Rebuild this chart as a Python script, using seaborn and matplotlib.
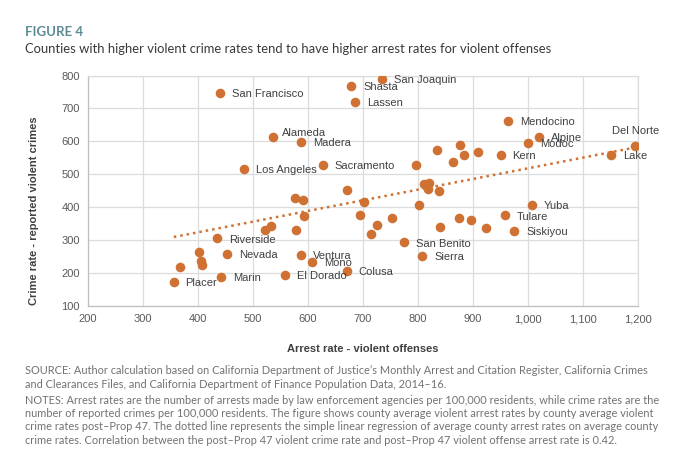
import numpy as np
import pandas as pd
import matplotlib
matplotlib.use("Agg")
import matplotlib.pyplot as plt
import seaborn as sns

# county values (arrest rate, crime rate)
counties = ["San Francisco", "Shasta", "Lassen", "San Joaquin", "Alameda", "Madera",
            "Los Angeles", "Sacramento", "Mendocino", "Alpine", "Modoc", "Del Norte",
            "Lake", "Kern", "Yuba", "Tulare", "Siskiyou", "San Benito", "Sierra",
            "Riverside", "Nevada", "Placer", "Marin", "Ventura", "Mono", "El Dorado",
            "Colusa"]
arrest_lab = [440, 679, 686, 734, 536, 588, 484, 627, 964, 1020, 1000, 1195,
              1151, 950, 1007, 958, 975, 775, 808, 435, 453, 356, 442, 587, 608, 559, 670]
crime_lab = [748, 768, 720, 789, 614, 597, 516, 528, 662, 613, 594, 587,
             560, 558, 408, 375, 327, 293, 251, 305, 258, 172, 187, 254, 235, 194, 206]

# counties without a label on the chart
arrest_other = [670, 876, 834, 884, 909, 864, 796, 810, 820, 819, 839, 801, 752, 874,
                896, 840, 923, 576, 591, 701, 695, 725, 714, 593, 579, 532, 522, 401,
                406, 408, 367]
crime_other = [452, 589, 574, 558, 567, 538, 528, 470, 473, 455, 449, 406, 368, 368,
               360, 340, 336, 427, 422, 415, 377, 347, 318, 373, 330, 343, 330, 263,
               236, 226, 219]

# label offsets in points (most sit to the right of the dot)
special_offsets = {"Alameda": (6.5, 3), "Del Norte": (0, 7)}

df = pd.DataFrame({
    "arrest": arrest_lab + arrest_other,
    "crime": crime_lab + crime_other,
    "name": counties + [""] * len(arrest_other),
})

dot = "#CF7132"
txt = "#404040"

sns.set_style("white")
plt.rcParams["font.family"] = ["Liberation Sans", "DejaVu Sans"]

fig = plt.figure(figsize=(6.8, 4.72), dpi=100)
ax = fig.add_axes([88 / 680, 1 - 306 / 472, 550 / 680, 230.5 / 472])

sns.regplot(data=df, x="arrest", y="crime", scatter=False, ci=None, ax=ax,
            line_kws=dict(color=dot, linestyle=(0, (1, 1.6)), linewidth=1.8))
sns.scatterplot(data=df, x="arrest", y="crime", color=dot, s=48, linewidth=0,
                ax=ax, zorder=3)

for _, r in df[df["name"] != ""].iterrows():
    if r["name"] in special_offsets:
        dx, dy = special_offsets[r["name"]]
    else:
        dx, dy = 8.5, -0.8
    ha = "center" if r["name"] == "Del Norte" else "left"
    va = "bottom" if r["name"] == "Del Norte" else "center"
    ax.annotate(r["name"], (r["arrest"], r["crime"]), xytext=(dx, dy),
                textcoords="offset points", ha=ha, va=va, fontsize=8, color=txt,
                zorder=4)

ax.set_xlim(200, 1200)
ax.set_ylim(100, 800)
ax.set_xticks(range(200, 1201, 100))
ax.set_xticklabels([f"{v:,}" for v in range(200, 1201, 100)])
ax.set_yticks(range(100, 801, 100))
ax.grid(True, color="#dcdcdc", linewidth=0.9)
ax.set_axisbelow(True)
for s in ax.spines.values():
    s.set_color("#dcdcdc")
    s.set_linewidth(0.9)
ax.spines["left"].set_color("#bfbfbf")
ax.spines["bottom"].set_color("#bfbfbf")
ax.tick_params(axis="both", length=0, labelsize=8, labelcolor="#595959", pad=6)

ax.set_xlabel("Arrest rate - violent offenses", fontsize=8, fontweight="bold",
              color=txt, labelpad=14)
ax.set_ylabel("Crime rate - reported violent crimes", fontsize=8, fontweight="bold",
              color=txt)
ax.yaxis.set_label_coords(-(88 - 39) / 550, (306 - 211) / 230.5)

# headings and notes
fig.text(25 / 680, 1 - 32 / 472, "FIGURE 4", fontsize=9.5, color="#5b8a93",
         family="Lato", va="center", fontweight="bold")
fig.text(25 / 680, 1 - 49 / 472,
         "Counties with higher violent crime rates tend to have higher arrest rates for violent offenses",
         fontsize=9.4, color="#3a3a3a", family="Lato", va="center")

note_color = "#727272"
source = ["SOURCE: Author calculation based on California Department of Justice\u2019s Monthly Arrest and Citation Register, California Crimes",
          "and Clearances Files, and California Department of Finance Population Data, 2014\u201316."]
notes = ["NOTES: Arrest rates are the number of arrests made by law enforcement agencies per 100,000 residents, while crime rates are the",
         "number of reported crimes per 100,000 residents. The figure shows county average violent arrest rates by county average violent",
         "crime rates post\u2013Prop 47. The dotted line represents the simple linear regression of average county arrest rates on average county",
         "crime rates. Correlation between the post\u2013Prop 47 violent crime rate and post\u2013Prop 47 violent offense arrest rate is 0.42."]
for i, line in enumerate(source):
    fig.text(25 / 680, 1 - (371 + 13.5 * i) / 472, line, fontsize=7.9, color=note_color,
             family="Lato", va="center")
for i, line in enumerate(notes):
    fig.text(25 / 680, 1 - (400 + 13.5 * i) / 472, line, fontsize=7.9, color=note_color,
             family="Lato", va="center")

fig.savefig("out.png", dpi=100)
